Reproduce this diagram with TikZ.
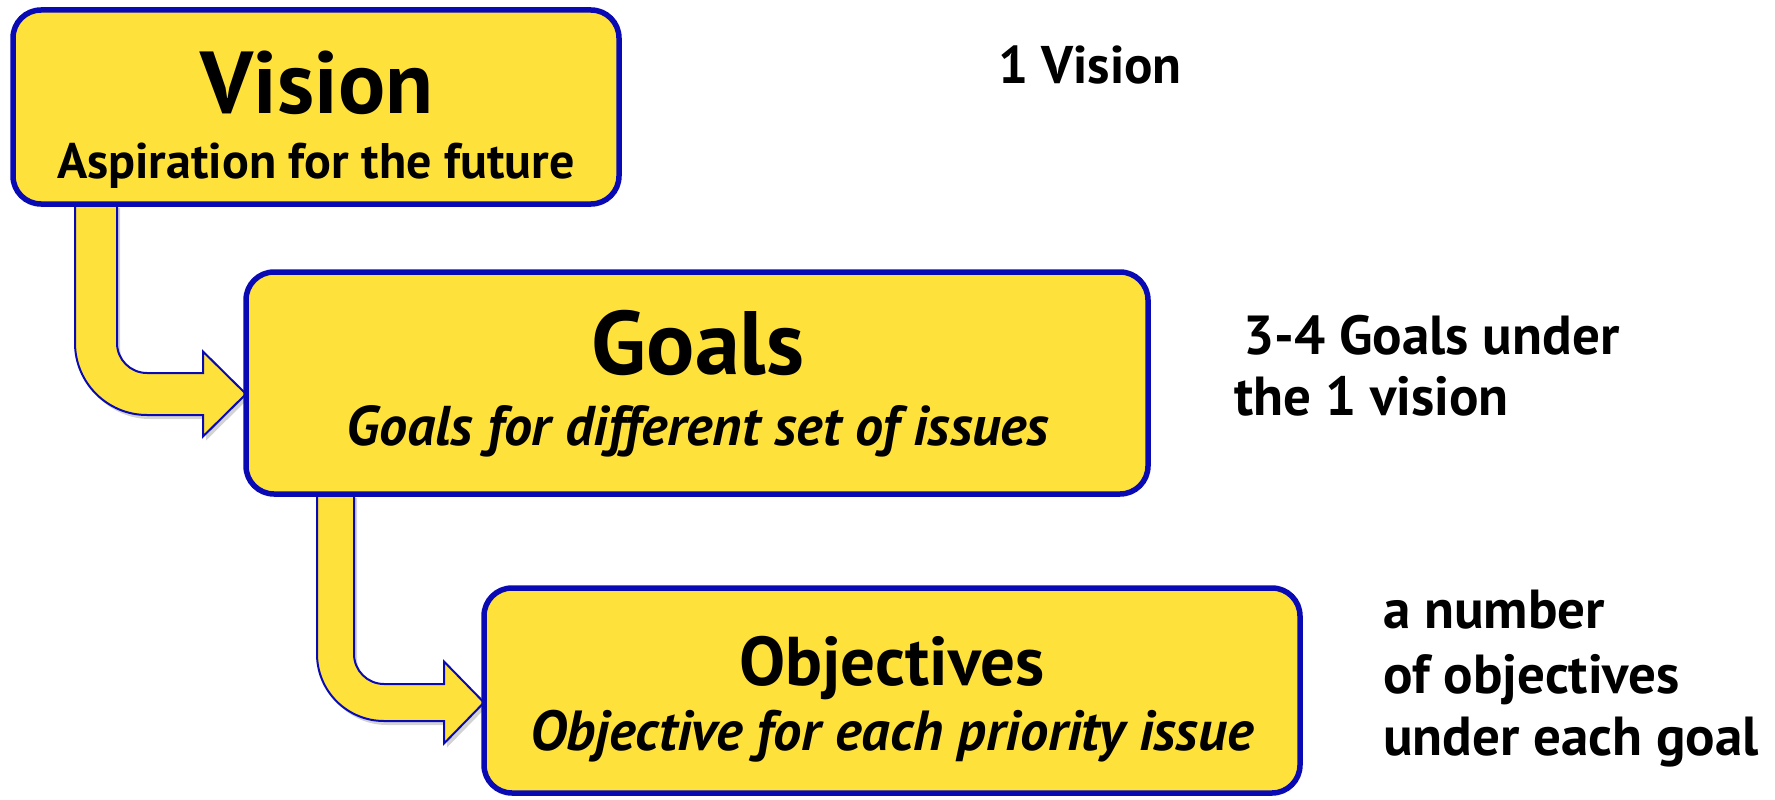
\documentclass[tikz,border=0pt]{standalone}
\usepackage{fontspec}
\setmainfont{PT Sans}
\usetikzlibrary{calc,backgrounds,shadows}

\definecolor{boxyellow}{RGB}{255,225,60}
\definecolor{boxblue}{RGB}{10,10,180}

\tikzset{
  levelbox/.style={rectangle, rounded corners=28, draw=boxblue, line width=5.5,
    fill=boxyellow, outer sep=0, inner sep=0},
  bentarrow/.style={fill=boxyellow, draw=boxblue, line width=2, line join=miter,
    drop shadow={shadow xshift=3, shadow yshift=-4, opacity=0.35}},
  txt/.style={inner sep=0, anchor=base, font=\bfseries},
}
\newcommand{\fs}[1]{\fontsize{#1}{#1}\selectfont}

\begin{document}
\begin{tikzpicture}[x=1pt, y=1pt]
\useasboundingbox (0,0) rectangle (1775,-800);

\node[levelbox, minimum width=606, minimum height=194] (vision) at (316,-107) {};
\node[levelbox, minimum width=902, minimum height=222] (goals) at (697,-383) {};
\node[levelbox, minimum width=816, minimum height=205] (objectives) at (892,-690.5) {};

\node[txt, font=\bfseries\fs{88}] (visiontitle) at (317,-113) {Vision};
\node[txt, font=\bfseries\fs{50}] (visionsub) at (316,-178) {Aspiration for the future};
\node[txt, font=\bfseries\fs{90}] (goalstitle) at (698,-374) {Goals};
\node[txt, font=\bfseries\itshape\fs{56}] (goalssub) at (698,-445) {Goals for different set of issues};
\node[txt, font=\bfseries\fs{69}] (objtitle) at (892,-685) {Objectives};
\node[txt, font=\bfseries\itshape\fs{56.5}] (objsub) at (892,-750) {Objective for each priority issue};

\node[txt, anchor=base west, font=\bfseries\fs{53}] (visionnote) at (998,-83) {1 Vision};
\node[txt, anchor=base west, font=\bfseries\fs{55}] (goalsnote1) at (1243,-354) {3-4 Goals under};
\node[txt, anchor=base west, font=\bfseries\fs{55}] (goalsnote2) at (1234,-415) {the 1 vision};
\node[txt, anchor=base west, font=\bfseries\fs{55}] (objnote1) at (1383,-628) {a number};
\node[txt, anchor=base west, font=\bfseries\fs{55}] (objnote2) at (1383,-693) {of objectives};
\node[txt, anchor=base west, font=\bfseries\fs{55}] (objnote3) at (1383,-755) {under each goal};

\coordinate (s1) at ($(vision.south west)+(62,0)$);
\coordinate (t1) at ($(goals.west)+(0,-11)$);
\coordinate (s2) at ($(goals.south west)+(71,0)$);
\coordinate (t2) at ($(objectives.west)+(0,-12)$);

\begin{scope}[on background layer]
% vision -> goals
\draw[bentarrow] let \p1=(s1), \p2=(t1) in
  (\x1,\y1) -- (\x1,\y2+51pt) arc (180:270:72) -- (\x2-43pt,\y2-21pt)
  -- (\x2-43pt,\y2-42.5pt) -- (\x2,\y2) -- (\x2-43pt,\y2+42.5pt)
  -- (\x2-43pt,\y2+21pt) -- (\x1+72pt,\y2+21pt) arc (270:180:30)
  -- (\x1+42pt,\y1) -- cycle;
% goals -> objectives
\draw[bentarrow] let \p1=(s2), \p2=(t2) in
  (\x1,\y1) -- (\x1,\y2+48.5pt) arc (180:270:67) -- (\x2-40pt,\y2-18.5pt)
  -- (\x2-40pt,\y2-41pt) -- (\x2,\y2) -- (\x2-40pt,\y2+41pt)
  -- (\x2-40pt,\y2+18.5pt) -- (\x1+67pt,\y2+18.5pt) arc (270:180:30)
  -- (\x1+37pt,\y1) -- cycle;
\end{scope}

\end{tikzpicture}
\end{document}
